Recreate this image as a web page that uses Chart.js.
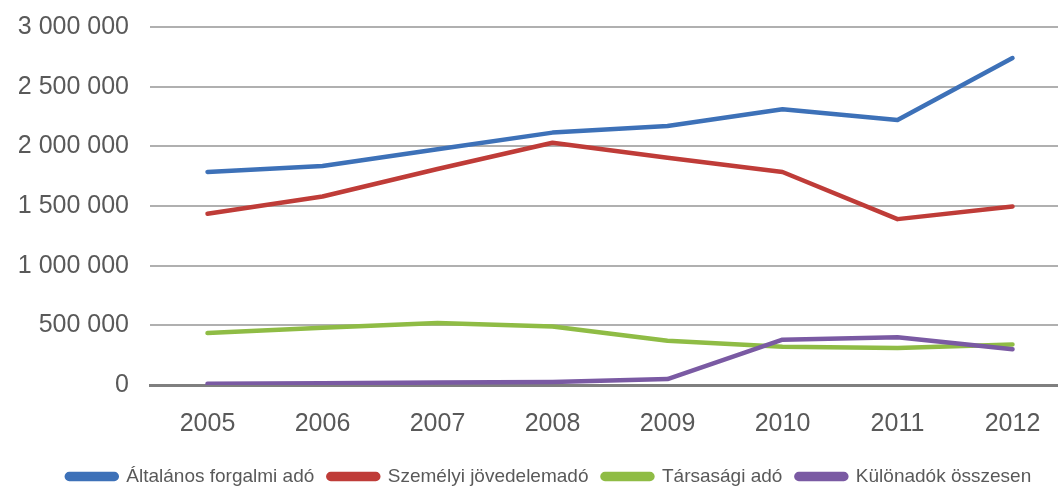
<!DOCTYPE html>
<html lang="hu">
<head>
<meta charset="utf-8">
<title>Adóbevételek 2005–2012</title>
<script src="https://cdn.jsdelivr.net/npm/chart.js@4/dist/chart.umd.min.js"></script>
<style>
  html, body { margin: 0; padding: 0; background: #fff; overflow: hidden; }
  /* the plot runs a little past the right edge of the window */
  #wrap { position: relative; width: 1070px; height: 498px; }
</style>
</head>
<body>
<div id="wrap"><canvas id="chart"></canvas></div>
<script>
  var years = ['2005', '2006', '2007', '2008', '2009', '2010', '2011', '2012'];

  var afaValues = [1785000, 1835000, 1975000, 2115000, 2170000, 2310000, 2220000, 2740000];
  var szjaValues = [1435000, 1580000, 1810000, 2030000, 1905000, 1785000, 1390000, 1495000];
  var tarsasagiValues = [435000, 480000, 520000, 490000, 370000, 320000, 310000, 340000];
  var kulonadoValues = [10000, 15000, 20000, 25000, 50000, 380000, 400000, 300000];

  var seriesNames = ['Általános forgalmi adó', 'Személyi jövedelemadó', 'Társasági adó', 'Különadók összesen'];
  var seriesColors = ['#3d71b8', '#bf3c38', '#8fbc45', '#7a5aa3'];

  var yMax = 3000000;
  var yStep = 500000;

  // 3000000 -> "3 000 000"
  function fmtThousands(v) {
    return String(Math.round(v)).replace(/\B(?=(\d{3})+(?!\d))/g, ' ');
  }

  function makeSet(i, values, order) {
    return {
      label: seriesNames[i],
      data: values,
      borderColor: seriesColors[i],
      backgroundColor: seriesColors[i],
      borderWidth: 4.5,
      borderCapStyle: 'round',
      borderJoinStyle: 'round',
      pointRadius: 0,
      pointHoverRadius: 0,
      tension: 0,
      fill: false,
      order: order
    };
  }

  // nudge the legend row to the right
  var legendShift = {
    id: 'legendShift',
    afterLayout: function (chart) {
      if (!chart.legend) return;
      chart.legend.left += 14;
      chart.legend.right += 14;
    }
  };

  var fontFamily = "'Liberation Sans', Arial, sans-serif";
  var tickFont = { family: fontFamily, size: 25 };

  new Chart(document.getElementById('chart'), {
    type: 'line',
    data: {
      labels: years,
      datasets: [
        makeSet(0, afaValues, 1),
        makeSet(1, szjaValues, 2),
        makeSet(2, tarsasagiValues, 3),
        makeSet(3, kulonadoValues, 0)
      ]
    },
    plugins: [legendShift],
    options: {
      responsive: true,
      maintainAspectRatio: false,
      animation: false,
      layout: { padding: { top: 27, right: 0, left: 0, bottom: 2 } },
      plugins: {
        tooltip: { enabled: false },
        legend: {
          position: 'bottom',
          labels: {
            boxWidth: 50,
            boxHeight: 5,
            useBorderRadius: true,
            borderRadius: 2.5,
            padding: 14,
            color: '#595959',
            font: { family: fontFamily, size: 19 },
            sort: function (a, b) { return a.datasetIndex - b.datasetIndex; }
          }
        }
      },
      scales: {
        x: {
          offset: true,
          afterFit: function (scale) { scale.height -= 2; },
          grid: { display: false },
          border: { display: true, color: '#7f7f7f', width: 3 },
          ticks: { color: '#595959', font: tickFont, padding: 16 }
        },
        y: {
          min: 0,
          max: yMax,
          afterFit: function (scale) { scale.width = 150; },
          // invisible tick marks keep the labels clear of the grid
          grid: { color: '#b0b0b0', lineWidth: 2, drawTicks: true, tickLength: 21, tickColor: 'rgba(0,0,0,0)' },
          border: { display: false },
          ticks: {
            stepSize: yStep,
            color: '#595959',
            font: tickFont,
            padding: 0,
            callback: function (v) { return fmtThousands(v); }
          }
        }
      }
    }
  });
</script>
</body>
</html>
